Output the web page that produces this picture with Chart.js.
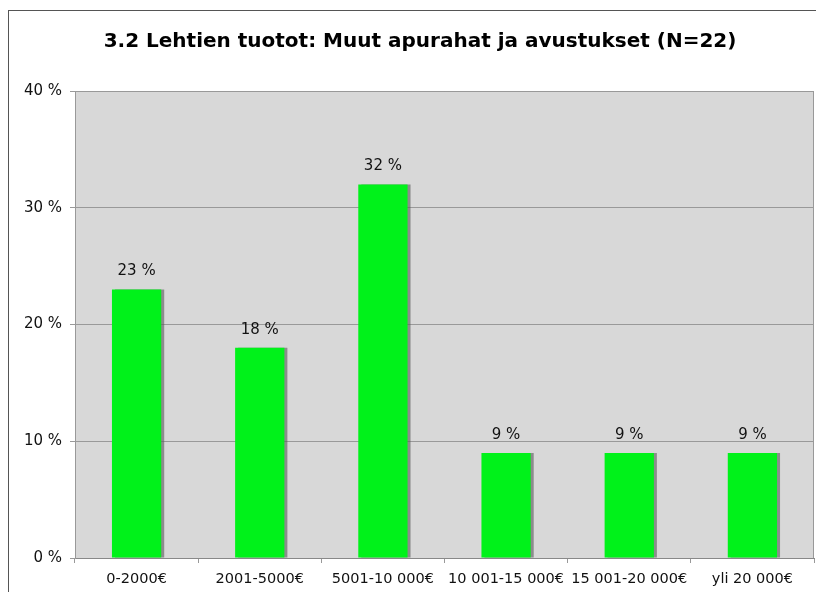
<!DOCTYPE html>
<html><head><meta charset="utf-8">
<script src="https://cdn.jsdelivr.net/npm/chart.js@4/dist/chart.umd.min.js"></script>
<style>
html,body{margin:0;padding:0;background:#fff;overflow:hidden;}
#wrap{position:relative;width:816px;height:592px;}
#frame{position:absolute;left:8px;top:10px;width:900px;height:700px;border:1.5px solid #555;box-sizing:border-box;}
canvas{position:absolute;left:0;top:0;}
</style></head>
<body><div id="wrap"><div id="frame"></div><canvas id="c" width="816" height="592"></canvas></div>
<script>
const title = "3.2 Lehtien tuotot: Muut apurahat ja avustukset (N=22)";
const categories = ["0-2000€", "2001-5000€", "5001-10 000€", "10 001-15 000€", "15 001-20 000€", "yli 20 000€"];
const values = [23, 18, 32, 9, 9, 9];
const yTicks = [0, 10, 20, 30, 40];

const FONT = "'DejaVu Sans', Verdana, sans-serif";

const bgPlugin = {
  id: 'bg',
  beforeDraw(chart) {
    const {ctx, chartArea: a} = chart;
    ctx.save();
    ctx.fillStyle = '#d8d8d8';
    ctx.fillRect(a.left, a.top, a.right - a.left, a.bottom - a.top);
    ctx.restore();
  },
  beforeDatasetsDraw(chart) {
    const ctx = chart.ctx;
    ctx.save();
    ctx.shadowColor = 'rgba(90,90,90,0.6)';
    ctx.shadowOffsetX = 3;
    ctx.shadowOffsetY = 0;
    ctx.shadowBlur = 0;
  },
  afterDatasetsDraw(chart) {
    const ctx = chart.ctx;
    ctx.restore();
    const meta = chart.getDatasetMeta(0);
    ctx.save();
    ctx.fillStyle = '#111';
    ctx.font = "15px " + FONT;
    ctx.textAlign = 'center';
    ctx.textBaseline = 'middle';
    meta.data.forEach((bar, i) => {
      ctx.fillText(values[i] + ' %', bar.x, bar.y - 18);
    });
    const a = chart.chartArea;
    ctx.strokeStyle = '#999';
    ctx.lineWidth = 1;
    ctx.beginPath();
    ctx.moveTo(a.left, a.top + 0.5);
    ctx.lineTo(a.right - 0.5, a.top + 0.5);
    ctx.lineTo(a.right - 0.5, a.bottom);
    ctx.stroke();
    ctx.fillStyle = '#000';
    ctx.font = "bold 20px " + FONT;
    ctx.fillText(title, 420, 42);
    ctx.restore();
  }
};

new Chart(document.getElementById('c'), {
  type: 'bar',
  data: {
    labels: categories,
    datasets: [{
      data: values,
      backgroundColor: '#00f21a',
      borderWidth: 0,
      barPercentage: 0.4,
      categoryPercentage: 1
    }]
  },
  options: {
    responsive: false,
    animation: false,
    events: [],
    layout: {padding: {top: 91, right: 2, bottom: 0, left: 0}},
    plugins: {legend: {display: false}, title: {display: false}, tooltip: {enabled: false}},
    scales: {
      x: {
        afterFit(s) { s.height = 34; },
        grid: {display: true, offset: true, drawOnChartArea: false, drawTicks: true, tickLength: 5, color: '#999'},
        border: {display: true, color: '#888'},
        ticks: {color: '#111', font: {family: FONT, size: 14.5}, padding: 8, maxRotation: 0, autoSkip: false}
      },
      y: {
        min: 0, max: 40,
        afterFit(s) { s.width = 75; },
        afterBuildTicks(s) { s.ticks = yTicks.map(v => ({value: v})); },
        grid: {color: '#999', tickLength: 5, drawTicks: true},
        border: {display: true, color: '#999'},
        ticks: {color: '#111', font: {family: FONT, size: 15}, padding: 8, callback: v => v + ' %'}
      }
    }
  },
  plugins: [bgPlugin]
});
</script></body></html>
